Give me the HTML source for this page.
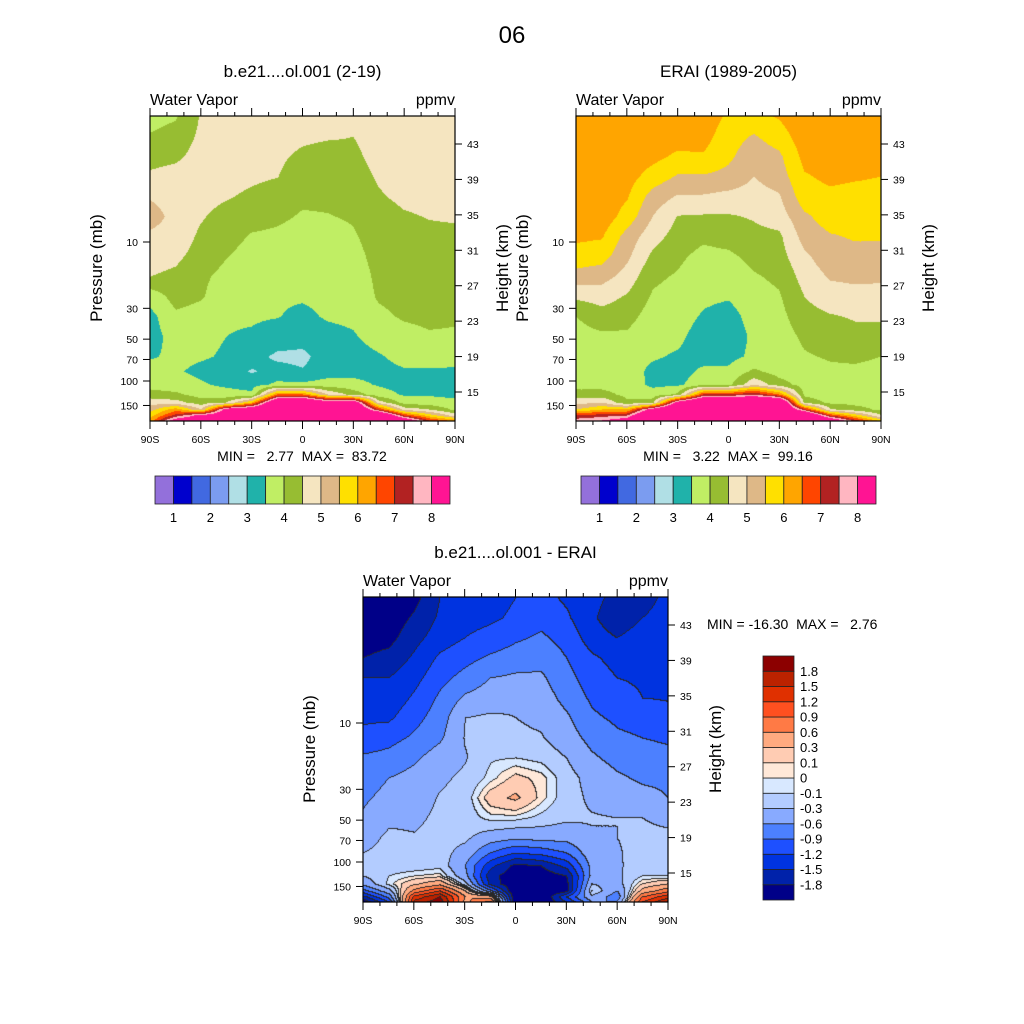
<!DOCTYPE html>
<html><head><meta charset="utf-8"><style>
body{margin:0;background:#fff;}
#wrap{position:relative;width:1024px;height:1024px;overflow:hidden;font-family:"Liberation Sans",sans-serif;}
canvas{position:absolute;}
svg{position:absolute;left:0;top:0;}
text{white-space:pre;}
</style></head><body>
<div id="wrap">
<canvas id="cA"></canvas>
<canvas id="cB"></canvas>
<canvas id="cC"></canvas>
<svg id="svg" width="1024" height="1024"></svg>
</div>
<script>
// ---- data ----
const lats = [-90,-75,-60,-45,-30,-15,0,15,30,45,60,75,90];
const rowOffsets = [0,20,40,60,80,100,120,140,160,180,200,220,240,255,268,278,286,293,299,304];
const pressureTicks = [10,30,50,70,100,150];
const heightTicks = [43,39,35,31,27,23,19,15];
const latTickLabels = ["90S","60S","30S","0","30N","60N","90N"];
const wvLevels = [1,1.5,2,2.5,3,3.5,4,4.5,5,5.5,6,6.5,7,7.5,8];
const wvLevelLabels = ["1","2","3","4","5","6","7","8"];
const diffLevels = [-1.8,-1.5,-1.2,-0.9,-0.6,-0.3,-0.1,0,0.1,0.3,0.6,0.9,1.2,1.5,1.8];
const modelField = [
[3.8,4.05,4.3,4.6,4.95,5.2,4.9,4.7,4.5,3.7,3.35,3.3,3.45,3.7,3.8,4.2,4.8,5.3,5.8,6.2],
[3.95,4.2,4.4,4.7,4.8,4.85,4.8,4.6,4.4,4.2,3.9,3.7,3.6,3.55,3.7,4.1,4.7,6.3,7.2,8.5],
[4.55,4.6,4.7,4.75,4.7,4.55,4.4,4.3,4.1,4.05,3.8,3.6,3.55,3.4,3.55,3.8,4.2,5.0,8.3,9],
[4.7,4.75,4.75,4.7,4.55,4.3,4.2,4.02,3.85,3.7,3.55,3.5,3.45,3.3,3.4,3.7,4.5,8.5,9,9.5],
[4.75,4.75,4.75,4.6,4.4,4.2,3.95,3.8,3.7,3.65,3.55,3.45,3.2,2.95,3.3,3.6,6,9,10,10],
[4.7,4.7,4.6,4.52,4.25,4.1,3.9,3.75,3.65,3.55,3.52,3.3,2.9,3.2,3.6,6.5,9.5,10,10,10],
[4.75,4.6,4.4,4.2,4.1,3.95,3.8,3.7,3.6,3.55,3.4,3.25,2.85,3.05,3.6,6.5,10,10,10,10],
[4.6,4.55,4.3,4.2,4.1,3.98,3.8,3.7,3.65,3.6,3.55,3.35,3.3,3.3,3.7,5,8.5,10,10,10],
[4.55,4.5,4.4,4.3,4.2,4.05,3.95,3.85,3.75,3.7,3.6,3.45,3.3,3.35,3.65,4.3,9,10,10,10],
[4.7,4.7,4.65,4.55,4.45,4.3,4.2,4.15,4.1,4.05,3.9,3.7,3.45,3.35,3.45,3.7,4.8,7,10,10],
[4.7,4.75,4.75,4.75,4.6,4.45,4.35,4.3,4.25,4.15,4.05,3.85,3.65,3.45,3.35,3.45,3.8,4.8,7,9],
[4.75,4.75,4.7,4.7,4.65,4.52,4.4,4.3,4.25,4.2,4.1,3.95,3.7,3.45,3.35,3.45,3.7,4.5,5.8,7],
[4.7,4.7,4.7,4.7,4.7,4.55,4.4,4.35,4.25,4.15,4.05,3.95,3.75,3.4,3.35,3.4,3.6,3.9,4.8,6.3]];
const eraiField = [
[6.3,6.3,6.3,6.3,6.3,6.2,6.1,5.8,5.3,4.6,4.0,3.8,3.75,3.75,3.8,4.2,4.8,5.5,7,7.8],
[6.3,6.3,6.3,6.3,6.3,6.3,6.05,5.7,5.2,4.7,4.3,3.9,3.75,3.75,3.8,4.2,5.0,6,7.3,8],
[6.3,6.3,6.3,6.2,6.05,5.8,5.3,5.1,4.8,4.45,4.2,3.9,3.65,3.7,3.75,3.85,4.1,6,7.5,8.5],
[6.4,6.3,6.15,5.8,5.3,5.0,4.7,4.4,4.1,3.95,3.75,3.6,3.55,3.4,3.4,3.7,4.3,8.5,10,10],
[6.4,6.25,5.9,5.45,4.95,4.48,4.3,4.1,3.95,3.8,3.7,3.6,3.45,3.3,3.4,4.1,8.5,10,10,10],
[6.35,6.2,5.95,5.45,4.95,4.45,4.1,3.85,3.7,3.6,3.45,3.3,3.3,3.6,3.8,7,10,10,10,10],
[5.9,5.7,5.6,5.35,4.85,4.45,4.2,3.9,3.7,3.55,3.3,3.2,3.35,3.6,3.85,7,10,10,10,10],
[5.85,5.45,5.2,5.0,4.8,4.55,4.35,4.15,3.95,3.8,3.7,3.6,3.6,4.1,4.9,7.5,10,10,10,10],
[6.05,5.75,5.4,5.25,4.95,4.75,4.4,4.3,4.1,3.95,3.85,3.75,3.7,3.8,4.2,6.5,10,10,10,10],
[6.4,6.3,6.15,5.95,5.8,5.4,5.2,4.9,4.7,4.5,4.3,4.1,3.95,3.8,3.8,3.9,4.3,7.2,10,10],
[6.4,6.35,6.25,6.1,5.9,5.75,5.45,5.3,5.05,4.8,4.45,4.25,4.05,3.9,3.8,3.75,3.9,4.6,7,9],
[6.4,6.35,6.25,6.05,5.85,5.7,5.55,5.35,5.1,4.85,4.55,4.35,4.1,3.9,3.8,3.75,3.85,4.2,5.8,7.2],
[6.4,6.35,6.25,6.0,5.85,5.7,5.55,5.35,5.1,4.8,4.55,4.35,4.0,3.85,3.8,3.75,3.8,3.9,4.6,5.8]];
const diffField = [
[-2.1,-2.0,-1.95,-1.8,-1.5,-1.4,-1.25,-1.1,-0.85,-0.75,-0.65,-0.55,-0.4,-0.3,-0.25,-0.3,-0.5,-1.0,-1.6,-2.0],
[-2.1,-2.0,-1.9,-1.7,-1.5,-1.4,-1.25,-1.0,-0.8,-0.6,-0.5,-0.35,-0.25,-0.22,-0.2,-0.1,-0.05,-0.4,-0.8,-1.2],
[-1.9,-1.75,-1.6,-1.45,-1.3,-1.15,-1.0,-0.85,-0.65,-0.5,-0.42,-0.35,-0.28,-0.22,-0.2,0.0,0.25,0.7,1.3,1.6],
[-1.5,-1.45,-1.35,-1.15,-1.0,-0.85,-0.75,-0.65,-0.45,-0.35,-0.28,-0.25,-0.22,-0.2,-0.15,0.05,0.5,1.2,1.8,2.0],
[-1.35,-1.3,-1.2,-1.0,-0.8,-0.55,-0.3,-0.28,-0.32,-0.25,-0.2,-0.2,-0.25,-0.4,-0.6,-0.5,-0.2,0.3,0.6,0.5],
[-1.3,-1.25,-1.1,-0.85,-0.6,-0.45,-0.25,-0.2,-0.12,-0.05,0.2,-0.05,-0.45,-0.9,-1.4,-1.7,-1.6,-0.8,0.5,1.0],
[-1.2,-1.15,-0.95,-0.75,-0.55,-0.35,-0.3,-0.25,-0.1,0.15,0.35,-0.05,-0.55,-1.2,-1.9,-2.0,-2.1,-2.2,-2.2,-2.2],
[-1.1,-1.0,-0.85,-0.7,-0.55,-0.45,-0.35,-0.28,-0.15,0.05,0.05,-0.15,-0.5,-1.1,-1.8,-2.0,-2.1,-2.2,-2.2,-2.2],
[-1.25,-1.15,-1.0,-0.9,-0.8,-0.7,-0.55,-0.45,-0.3,-0.2,-0.2,-0.25,-0.5,-0.9,-1.4,-1.8,-1.9,-1.9,-1.2,-1.5],
[-1.4,-1.45,-1.35,-1.15,-1.05,-0.95,-0.85,-0.7,-0.55,-0.4,-0.35,-0.28,-0.33,-0.4,-0.5,-0.5,-0.3,-0.1,-0.35,-0.6],
[-1.6,-1.7,-1.5,-1.3,-1.2,-1.05,-0.95,-0.85,-0.7,-0.55,-0.4,-0.3,-0.3,-0.32,-0.33,-0.35,-0.4,-0.6,-0.8,-0.6],
[-1.65,-1.5,-1.35,-1.3,-1.25,-1.2,-1.0,-0.9,-0.75,-0.65,-0.5,-0.3,-0.25,-0.22,-0.2,-0.1,0.1,0.4,0.9,1.2],
[-1.4,-1.35,-1.3,-1.28,-1.25,-1.22,-1.1,-0.95,-0.8,-0.65,-0.6,-0.35,-0.25,-0.2,-0.18,-0.1,0.3,0.8,1.4,1.8]];
const wvColors = ["#9370db","#0000cd","#4169e1","#7b9cf0","#b0dfe5","#20b2aa","#c0ee64","#97bd32","#f5e5c0","#deb887","#ffe000","#ffa500","#ff4500","#b22222","#ffb6c1","#ff1493"];
const diffColors = ["#000088","#0022aa","#0033e0","#1e50ff","#4c80ff","#88aaff","#b3ccff","#d8e8ff","#ffe8d8","#ffccb3","#ffaa80","#ff7a45","#ff5020","#e03000","#bb2200","#8c0000"];

// ---- geometry ----
const PH = 305, PW = 305;
const pTop = 1.24, pBot = 194;
function yP(p){ return (Math.log(p)-Math.log(pTop))/(Math.log(pBot)-Math.log(pTop))*PH; }
function yH(z){ return 28 + (43-z)*8.857; }
function xLat(l){ return (l+90)/180*PW; }

const svg = document.getElementById('svg');
const NS = "http://www.w3.org/2000/svg";
function mk(tag, attrs, parent){ const e=document.createElementNS(NS,tag); for(const k in attrs) e.setAttribute(k,attrs[k]); (parent||svg).appendChild(e); return e; }
function txt(s,x,y,size,anchor,parent,rot){ const t=mk('text',{x:x,y:y,'font-size':size,'text-anchor':anchor||'middle','font-family':'Liberation Sans, sans-serif',fill:'#000'},parent); if(rot) t.setAttribute('transform','rotate(-90 '+x+' '+y+')'); t.textContent=s; return t; }

function levelIndex(v, levels){ let i=0; while(i<levels.length && v>=levels[i]) i++; return i; }
function sample(field, fx, fy){
  const c = fx*12; let i=Math.floor(c); if(i>=12) i=11; const tx=c-i;
  const yy = fy*304; let j=0; while(j<rowOffsets.length-2 && rowOffsets[j+1]<yy) j++;
  const ty = Math.min(1,Math.max(0,(yy-rowOffsets[j])/(rowOffsets[j+1]-rowOffsets[j])));
  const a=field[i][j], b=field[i+1][j], c2=field[i][j+1], d=field[i+1][j+1];
  return (a*(1-tx)+b*tx)*(1-ty)+(c2*(1-tx)+d*tx)*ty;
}
function hex(h){ return [parseInt(h.substr(1,2),16),parseInt(h.substr(3,2),16),parseInt(h.substr(5,2),16)]; }
function drawField(id, x0, y0, field, levels, colors, lines){
  const cv=document.getElementById(id); cv.width=PW; cv.height=PH; cv.style.left=x0+'px'; cv.style.top=y0+'px';
  const ctx=cv.getContext('2d'); const img=ctx.createImageData(PW,PH);
  const idx=new Int16Array(PW*PH); const rgb=colors.map(hex);
  for(let y=0;y<PH;y++) for(let x=0;x<PW;x++){
    const v=sample(field, x/(PW-1), y/(PH-1)); idx[y*PW+x]=levelIndex(v,levels);
  }
  for(let y=0;y<PH;y++) for(let x=0;x<PW;x++){
    const k=y*PW+x; let c=rgb[idx[k]];
    if(lines && ((x>0&&idx[k-1]!==idx[k])||(y>0&&idx[k-PW]!==idx[k]))) c=[40,40,40];
    img.data[k*4]=c[0]; img.data[k*4+1]=c[1]; img.data[k*4+2]=c[2]; img.data[k*4+3]=255;
  }
  ctx.putImageData(img,0,0);
}

function axes(x0, y0, title, name){
  const g=mk('g',{});
  
  
  mk('rect',{x:x0,y:y0,width:PW,height:PH,fill:'none',stroke:'#000','stroke-width':1.2},g);
  for(let l=-90;l<=90;l+=10){
    const major = l%30===0; const x=x0+xLat(l); const L=major?8:4;
    mk('line',{x1:x,y1:y0,x2:x,y2:y0-L,stroke:'#000','stroke-width':1},g);
    mk('line',{x1:x,y1:y0+PH,x2:x,y2:y0+PH+L,stroke:'#000','stroke-width':1},g);
  }
  latTickLabels.forEach((s,i)=>{ txt(s, x0+xLat(-90+30*i), y0+PH+22, 10.5, 'middle', g); });
  pressureTicks.forEach(p=>{ const y=y0+yP(p); mk('line',{x1:x0,y1:y,x2:x0-7,y2:y,stroke:'#000'},g); txt(String(p), x0-12, y+4, 10.5,'end',g); });
  heightTicks.forEach(z=>{ const y=y0+yH(z); mk('line',{x1:x0+PW,y1:y,x2:x0+PW+7,y2:y,stroke:'#000'},g); txt(String(z), x0+PW+12, y+4, 10.5,'start',g); });
  txt('Water Vapor', x0, y0-11, 16, 'start', g);
  txt('ppmv', x0+PW, y0-11, 16, 'end', g);
  txt(title, x0+PW/2, y0-39, 17, 'middle', g);
  txt('Pressure (mb)', x0-48, y0+152, 17, 'middle', g, true);
  txt('Height (km)', x0+PW+53, y0+152, 17, 'middle', g, true);
}
function hbar(x0, y0, name){
  const g=mk('g',{});
  
  
  const bw=295/wvColors.length;
  wvColors.forEach((c,i)=>{ const r=mk('rect',{x:x0+i*bw,y:y0,width:bw,height:28,fill:c,stroke:'#222','stroke-width':0.8},g);
      });
  wvLevelLabels.forEach((s,i)=>{ const li=wvLevels.indexOf(Number(s)); txt(s, x0+(li+1)*bw, y0+46, 13, 'middle', g); });
}

drawField('cA',150,116,modelField,wvLevels,wvColors,false);
drawField('cB',576,116,eraiField,wvLevels,wvColors,false);
drawField('cC',363,597,diffField,diffLevels,diffColors,true);

txt('06',512,43,24,'middle');
axes(150,116,'b.e21....ol.001 (2-19)','model-panel');
axes(576,116,'ERAI (1989-2005)','erai-panel');
axes(363,597,'b.e21....ol.001 - ERAI','diff-panel');
txt('MIN =   2.77  MAX =  83.72',302,461,14,'middle');
txt('MIN =   3.22  MAX =  99.16',728,461,14,'middle');
txt('MIN = -16.30  MAX =   2.76',707,629,14,'start');
hbar(155,476,'model-colorbar');
hbar(581,476,'erai-colorbar');
// vertical diff colorbar
const vb=mk('g',{});


const bh=244/diffColors.length;
diffColors.forEach((c,i)=>{ const r=mk('rect',{x:763,y:656+(diffColors.length-1-i)*bh,width:31,height:bh,fill:c,stroke:'#222','stroke-width':0.8},vb);
    });
diffLevels.forEach((v,i)=>{ const y=656+(diffColors.length-1-i)*bh; txt(String(v), 800, y+4.5, 13, 'start', vb); });
</script>
</body></html>
